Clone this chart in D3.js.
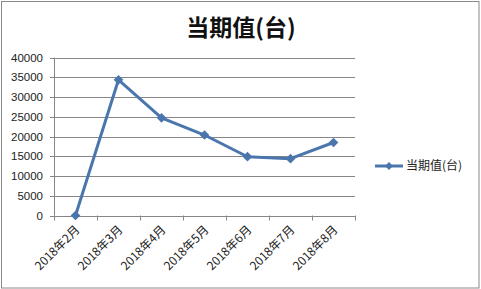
<!DOCTYPE html>
<html>
<head>
<meta charset="utf-8">
<script src="https://cdn.jsdelivr.net/npm/d3@7"></script>
<style>
  body { margin: 0; background: #fff; }
  svg { display: block; font-family: "Noto Sans CJK SC", "DejaVu Sans", sans-serif; }
</style>
</head>
<body>
<div id="chart"></div>
<script>
var w = 481;
var h = 289;

// data
var months = ['2018年2月', '2018年3月', '2018年4月', '2018年5月', '2018年6月', '2018年7月', '2018年8月'];
var values = [0, 34400, 24750, 20400, 14900, 14400, 18500];
var yTicks = [0, 5000, 10000, 15000, 20000, 25000, 30000, 35000, 40000];
var seriesName = '当期值(台)';
var title = '当期值(台)';

var lineColor = '#4a76ad';

var svg = d3.select('#chart').append('svg')
  .attr('width', w)
  .attr('height', h);

// outer border
svg.append('rect')
  .attr('x', 1.5).attr('y', 1.5)
  .attr('width', w - 3.5).attr('height', h - 2.5)
  .attr('fill', '#fff')
  .attr('stroke', '#8a8a8a');

// title
svg.append('text')
  .attr('x', 241).attr('y', 36)
  .attr('text-anchor', 'middle')
  .attr('font-size', '23px')
  .attr('font-weight', 'bold')
  .attr('fill', '#111')
  .text(title);

var x = d3.scaleBand()
  .domain(months)
  .range([54, 355]);

var y = d3.scaleLinear()
  .domain([0, 40000])
  .range([215.5, 57.7]);

// gridlines
svg.append('g')
  .selectAll('line')
  .data(yTicks)
  .enter()
  .append('line')
  .attr('x1', 50).attr('x2', 355)
  .attr('y1', function (d) { return Math.round(y(d)) + 0.5; })
  .attr('y2', function (d) { return Math.round(y(d)) + 0.5; })
  .attr('stroke', '#868686');

// y axis line
svg.append('line')
  .attr('x1', 54.5).attr('x2', 54.5)
  .attr('y1', y(40000)).attr('y2', y(0))
  .attr('stroke', '#868686');

// y labels
svg.append('g')
  .selectAll('text')
  .data(yTicks)
  .enter()
  .append('text')
  .attr('x', 43)
  .attr('y', function (d) { return y(d) + 4; })
  .attr('text-anchor', 'end')
  .attr('font-size', '11.5px')
  .attr('font-family', 'Liberation Sans, DejaVu Sans, sans-serif')
  .attr('fill', '#222')
  .text(function (d) { return d; });

// x tick marks
var xEdges = months.map(function (m) { return x(m); }).concat([x.range()[1]]);
svg.append('g')
  .selectAll('line')
  .data(xEdges)
  .enter()
  .append('line')
  .attr('x1', function (d) { return Math.round(d) + 0.5; })
  .attr('x2', function (d) { return Math.round(d) + 0.5; })
  .attr('y1', y(0)).attr('y2', y(0) + 5)
  .attr('stroke', '#868686');

// x labels rotated
svg.append('g')
  .selectAll('text')
  .data(months)
  .enter()
  .append('text')
  .attr('transform', function (d) {
    var cx = x(d) + x.bandwidth() / 2 + 5;
    return 'translate(' + cx + ',' + (y(0) + 15) + ') rotate(-45)';
  })
  .attr('text-anchor', 'end')
  .attr('font-size', '12px')
  .attr('fill', '#222')
  .text(function (d) { return d; });

// line
var line = d3.line()
  .x(function (d, i) { return x(months[i]) + x.bandwidth() / 2; })
  .y(function (d) { return y(d); });

svg.append('path')
  .datum(values)
  .attr('d', line)
  .attr('fill', 'none')
  .attr('stroke', lineColor)
  .attr('stroke-width', 3)
  .attr('stroke-linejoin', 'round');

var diamond = d3.symbol().type(d3.symbolDiamond2).size(60);

svg.append('g')
  .selectAll('path')
  .data(values)
  .enter()
  .append('path')
  .attr('d', diamond)
  .attr('transform', function (d, i) {
    return 'translate(' + (x(months[i]) + x.bandwidth() / 2) + ',' + y(d) + ')';
  })
  .attr('fill', lineColor);

// legend
var lg = svg.append('g').attr('transform', 'translate(375,166)');
lg.append('line')
  .attr('x1', 0).attr('x2', 28)
  .attr('stroke', lineColor)
  .attr('stroke-width', 3);
lg.append('path')
  .attr('d', d3.symbol().type(d3.symbolDiamond2).size(40))
  .attr('transform', 'translate(14,0)')
  .attr('fill', lineColor);
lg.append('text')
  .attr('x', 31).attr('y', 4)
  .attr('font-size', '12px')
  .attr('fill', '#222')
  .text(seriesName);
</script>
</body>
</html>
